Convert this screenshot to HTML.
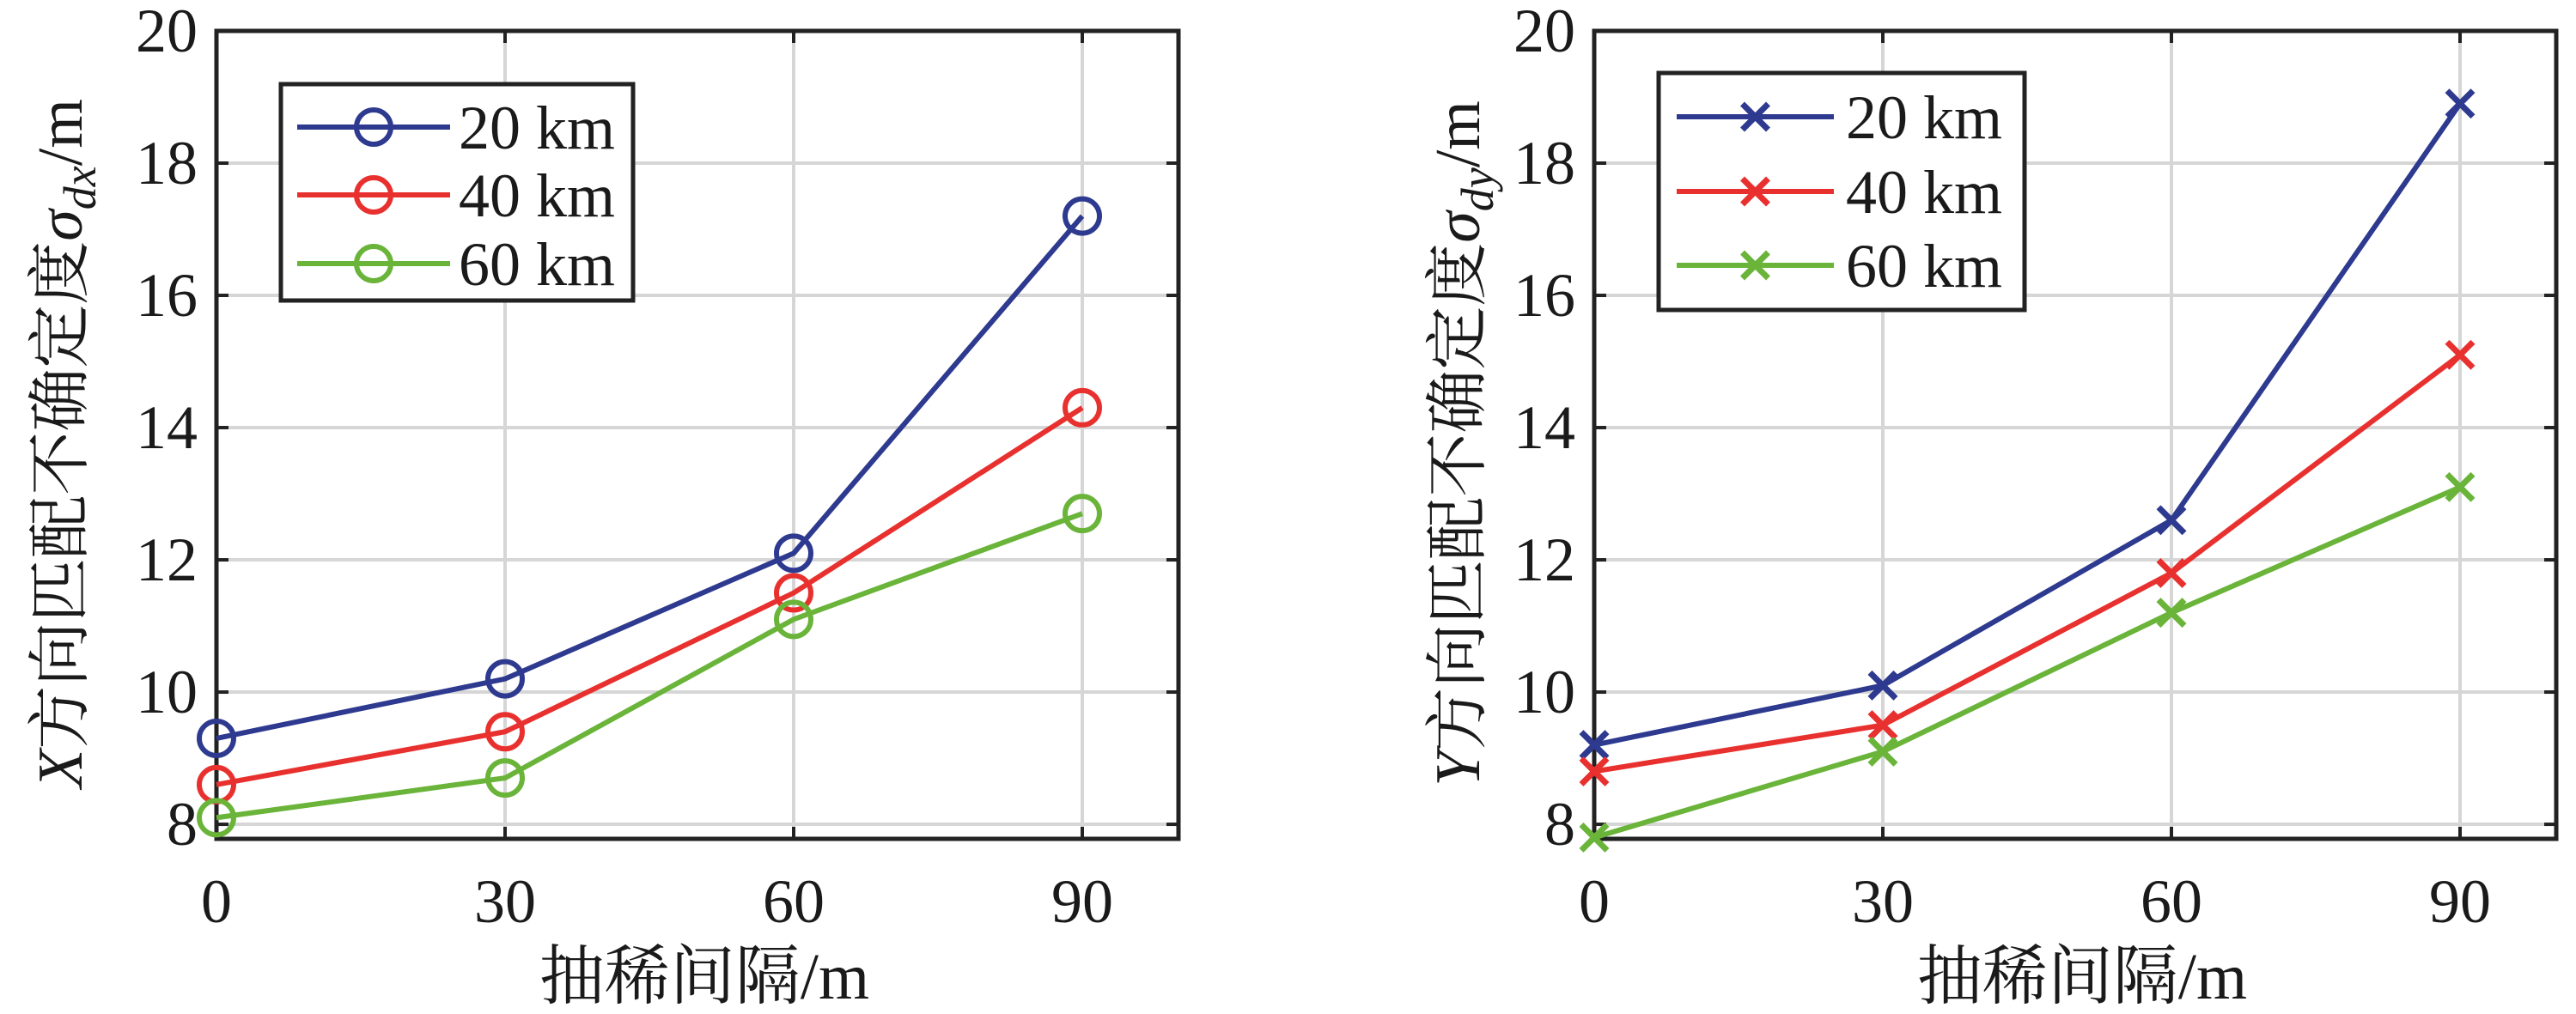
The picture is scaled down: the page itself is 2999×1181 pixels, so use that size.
<!DOCTYPE html>
<html><head><meta charset="utf-8"><style>
html,body{margin:0;padding:0;background:#fff;width:2999px;height:1181px;overflow:hidden}
svg text{font-family:"Liberation Serif","Noto Serif CJK SC",serif;fill:#1a1a1a}
</style></head><body>
<svg id="s" width="2999" height="1181" xmlns="http://www.w3.org/2000/svg"></svg>
<script>
const s=document.getElementById('s');let h='';
const C=['#2e3a8f','#e8312f','#6ab43a'];
function plot(L,R,data,mk,leg,ylab,sub,ylx){
 const T=36,B=977,ymin=7.78,ymax=20;
 const X=v=>L+(R-L)*v/100, Y=v=>B-(B-T)*(v-ymin)/(ymax-ymin);
 h+=`<rect x="${L}" y="${T}" width="${R-L}" height="${B-T}" fill="#fff"/>`;
 for(let v=8;v<=20;v+=2){const y=Y(v);h+=`<line x1="${L}" x2="${R}" y1="${y}" y2="${y}" stroke="#d6d6d6" stroke-width="4"/>`;
  h+=`<line x1="${L}" x2="${L+14}" y1="${y}" y2="${y}" stroke="#222" stroke-width="4"/><line x1="${R}" x2="${R-14}" y1="${y}" y2="${y}" stroke="#222" stroke-width="4"/>`;
  h+=`<text x="${L-22}" y="${y+24}" font-size="72" text-anchor="end">${v}</text>`;}
 for(const v of [0,30,60,90]){const x=X(v);h+=`<line x1="${x}" x2="${x}" y1="${T}" y2="${B}" stroke="#d6d6d6" stroke-width="4"/>`;
  h+=`<line x1="${x}" x2="${x}" y1="${B}" y2="${B-14}" stroke="#222" stroke-width="4"/><line x1="${x}" x2="${x}" y1="${T}" y2="${T+14}" stroke="#222" stroke-width="4"/>`;
  h+=`<text x="${x}" y="${1074}" font-size="72" text-anchor="middle">${v}</text>`;}
 h+=`<rect x="${L}" y="${T}" width="${R-L}" height="${B-T}" fill="none" stroke="#222" stroke-width="5"/>`;
 const m=(x,y,c)=>mk=='o'?`<circle cx="${x}" cy="${y}" r="20" fill="none" stroke="${c}" stroke-width="6"/>`:
  `<path d="M${x-15} ${y-15}L${x+15} ${y+15}M${x-15} ${y+15}L${x+15} ${y-15}" stroke="${c}" stroke-width="7"/>`;
 data.forEach((d,i)=>{const p=d.map((v,j)=>[X(j*30),Y(v)]);
  h+=`<polyline points="${p.map(a=>a.join(',')).join(' ')}" fill="none" stroke="${C[i]}" stroke-width="6"/>`;
  p.forEach(a=>h+=m(a[0],a[1],C[i]));});
 h+=`<rect x="${leg.x}" y="${leg.y}" width="${leg.w}" height="${leg.h}" fill="#fff" stroke="#222" stroke-width="5"/>`;
 ['20 km','40 km','60 km'].forEach((t,i)=>{const y=leg.ys[i];
  h+=`<line x1="${leg.l1}" x2="${leg.l2}" y1="${y}" y2="${y}" stroke="${C[i]}" stroke-width="6"/>`+m((leg.l1+leg.l2)/2,y,C[i]);
  h+=`<text x="${leg.tx}" y="${y+25}" font-size="72">${t}</text>`;});
 h+=`<text x="${(L+R)/2+8}" y="1163" font-size="76" text-anchor="middle">抽稀间隔/m</text>`;
 h+=`<text transform="translate(${ylx},${(T+B)/2+10}) rotate(-90)" font-size="74" text-anchor="middle"><tspan font-style="italic">${ylab}</tspan>方向匹配不确定度<tspan font-style="italic">σ</tspan><tspan font-style="italic" font-size="54" dy="16">${sub}</tspan><tspan dy="-16">/m</tspan></text>`;
}
plot(252,1372,[[9.3,10.2,12.1,17.2],[8.6,9.4,11.5,14.3],[8.1,8.7,11.1,12.7]],'o',
 {x:327,y:98,w:410,h:252,l1:346,l2:524,tx:534,ys:[148,227,307]},'X','dx',95);
plot(1856,2976,[[9.2,10.1,12.6,18.9],[8.8,9.5,11.8,15.1],[7.8,9.1,11.2,13.1]],'x',
 {x:1931,y:85,w:426,h:276,l1:1952,l2:2135,tx:2149,ys:[136,223,309]},'Y','dy',1722);
s.innerHTML=h;
</script>
</body></html>
